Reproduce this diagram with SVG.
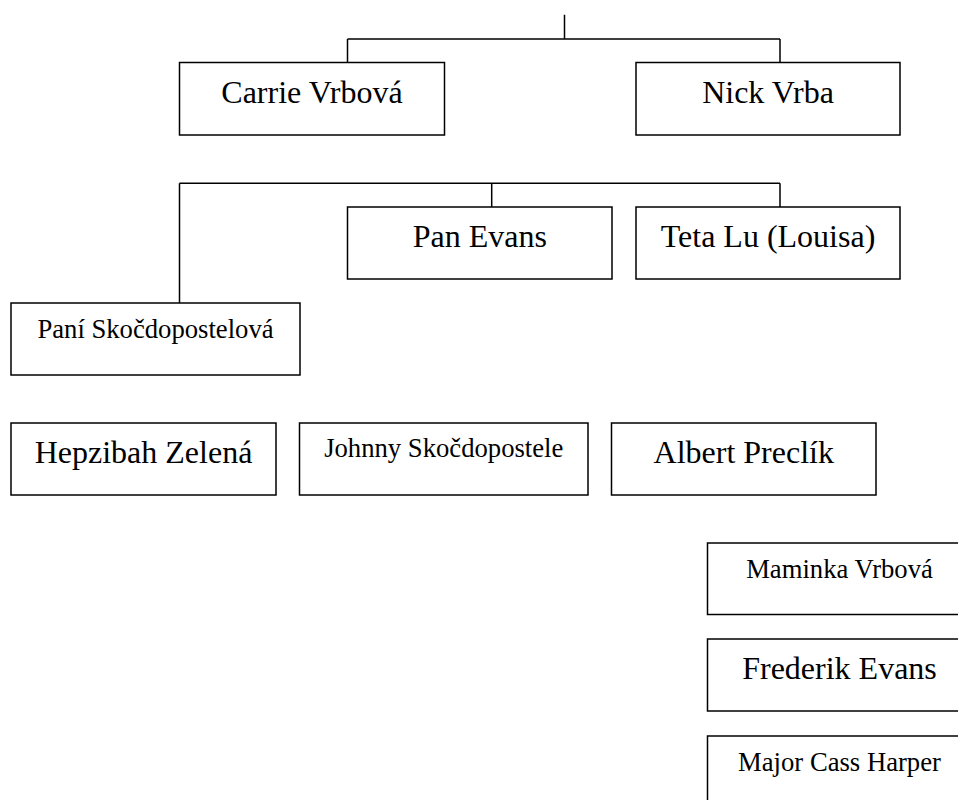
<svg xmlns="http://www.w3.org/2000/svg" width="958" height="800" viewBox="0 0 958 800">
<style>
.box{fill:#fff;stroke:#000;stroke-width:1.5}
.con{fill:none;stroke:#000;stroke-width:1.5}
.t{font-family:"Liberation Serif","Times New Roman",serif;fill:#000;text-anchor:middle}
.l{font-size:32px}
.s{font-size:26.67px}
</style>
<rect width="958" height="800" fill="#fff"/>
<g id="connectors">
<path class="con" d="M564.5 14.7V39M347.5 39H780M347.5 39V62.5M780 39V62.5"/>
<path class="con" d="M179.5 183.3H780M179.5 183.3V303M491.7 183.3V207M780 183.3V207"/>
</g>
<g id="carrie"><rect class="box" x="179.5" y="62.5" width="265" height="72.5"/><text class="t l" x="312" y="103">Carrie Vrbová</text></g>
<g id="nick"><rect class="box" x="636" y="62.5" width="264" height="72.5"/><text class="t l" x="768" y="103">Nick Vrba</text></g>
<g id="pan-evans"><rect class="box" x="347.5" y="207" width="264.5" height="72"/><text class="t l" x="479.75" y="247">Pan Evans</text></g>
<g id="teta-lu"><rect class="box" x="636" y="207" width="264" height="72"/><text class="t l" x="768" y="247">Teta Lu (Louisa)</text></g>
<g id="pani"><rect class="box" x="11" y="303" width="289" height="72"/><text class="t s" x="155.5" y="338">Paní Skočdopostelová</text></g>
<g id="hepzibah"><rect class="box" x="11" y="423" width="265" height="72"/><text class="t l" x="143.5" y="463">Hepzibah Zelená</text></g>
<g id="johnny"><rect class="box" x="299.5" y="423" width="288.5" height="72"/><text class="t s" x="443.75" y="457">Johnny Skočdopostele</text></g>
<g id="albert"><rect class="box" x="611.5" y="423" width="264.5" height="72"/><text class="t l" x="743.75" y="463">Albert Preclík</text></g>
<g id="maminka"><rect class="box" x="707.5" y="543" width="264.5" height="71.5"/><text class="t s" x="839.5" y="578">Maminka Vrbová</text></g>
<g id="frederik"><rect class="box" x="707.5" y="639" width="264.5" height="72"/><text class="t l" x="839.5" y="678.5">Frederik Evans</text></g>
<g id="major"><rect class="box" x="707.5" y="736" width="264.5" height="72"/><text class="t s" x="839.5" y="771">Major Cass Harper</text></g>
</svg>
